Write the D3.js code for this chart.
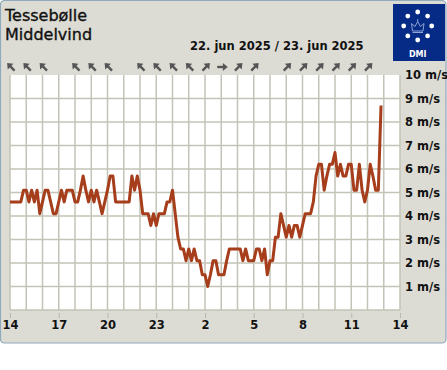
<!DOCTYPE html>
<html>
<head>
<meta charset="utf-8">
<script src="https://cdn.jsdelivr.net/npm/d3@7"></script>
<style>
  body { margin: 0; background: #fff; }
  text { font-family: "DejaVu Sans", sans-serif; }
</style>
</head>
<body>
<div id="chart"></div>
<script>
// wind speed in m/s, one value per 10 minutes from 22 jun 14:00
const speeds = [
  4.6, 4.6, 4.6, 4.6, 4.6, 5.1, 5.1, 4.6, 5.1, 4.6, 5.1, 4.1,
  4.6, 5.1, 5.1, 4.6, 4.1, 4.1, 4.6, 5.1, 4.6, 5.1, 5.1, 5.1,
  4.6, 4.6, 5.1, 5.7, 5.1, 4.6, 5.1, 4.6, 5.1, 4.6, 4.1, 4.6,
  5.1, 5.7, 5.7, 4.6, 4.6, 4.6, 4.6, 4.6, 4.6, 5.7, 5.1, 5.7,
  5.1, 4.1, 4.1, 4.1, 3.6, 4.1, 3.6, 4.1, 4.1, 4.1, 4.6, 4.6,
  5.1, 4.1, 3.1, 2.6, 2.6, 2.1, 2.6, 2.1, 2.6, 2.1, 2.1, 1.5,
  1.5, 1.0, 1.5, 2.1, 2.1, 1.5, 1.5, 1.5, 2.1, 2.6, 2.6, 2.6,
  2.6, 2.6, 2.1, 2.6, 2.1, 2.1, 2.1, 2.6, 2.6, 2.1, 2.6, 1.5,
  2.1, 2.1, 3.1, 3.1, 4.1, 3.6, 3.1, 3.6, 3.1, 3.6, 3.6, 3.1,
  3.6, 4.1, 4.1, 4.1, 4.6, 5.7, 6.2, 6.2, 5.1, 5.7, 6.2, 6.2,
  6.7, 5.7, 6.2, 5.7, 5.7, 6.2, 6.2, 5.1, 5.1, 6.2, 5.1, 4.6,
  5.1, 6.2, 5.7, 5.1, 5.1, 8.7
];
const stepMinutes = 10;

// direction arrows: hour offset from start and rotation (0 = up)
const arrowHours = [0, 1, 2, 4, 5, 6, 8, 9, 10, 11, 12, 13, 14, 15, 17, 18, 19, 20, 21, 22];
const arrowRot = [-45, -45, -45, -45, -45, -45, -45, -45, -45, -45, 45, 90, 45, 45, 45, 45, 45, 45, 45, 45];

const yTicks = [1, 2, 3, 4, 5, 6, 7, 8, 9, 10];
const titleLines = ["Tessebølle", "Middelvind"];
const dateLabel = "22. jun 2025 / 23. jun 2025";

const start = new Date(2025, 5, 22, 14, 0);
const end = new Date(2025, 5, 23, 14, 0);

const W = 447, H = 370;
const svg = d3.select('#chart').append('svg')
  .attr('width', W)
  .attr('height', H);

// panel
svg.append('rect')
  .attr('x', 0.5).attr('y', 0.5)
  .attr('width', 445.5).attr('height', 342.5)
  .attr('rx', 4)
  .attr('fill', '#dcdcd4')
  .attr('stroke', '#8fa9bd')
  .attr('stroke-width', 1.2);

const pLeft = 10, pRight = 400, pTop = 75, pBottom = 310;

const x = d3.scaleTime().domain([start, end]).range([pLeft, pRight]);
const y = d3.scaleLinear().domain([0, 10]).range([pBottom, pTop]);

svg.append('rect')
  .attr('x', pLeft).attr('y', pTop)
  .attr('width', pRight - pLeft).attr('height', pBottom - pTop)
  .attr('fill', '#fff');

// grid
const gridColor = '#c3c3b7';
svg.append('g')
  .selectAll('line')
  .data(d3.timeHour.range(start, d3.timeHour.offset(end, 1)))
  .enter().append('line')
  .attr('x1', d => x(d)).attr('x2', d => x(d))
  .attr('y1', pTop).attr('y2', pBottom)
  .attr('stroke', gridColor)
  .attr('stroke-width', 1.5);

svg.append('g')
  .selectAll('line')
  .data(d3.range(0, 10))
  .enter().append('line')
  .attr('x1', pLeft).attr('x2', pRight)
  .attr('y1', d => y(d)).attr('y2', d => y(d))
  .attr('stroke', gridColor)
  .attr('stroke-width', 1.5);

// x axis, a label every third hour from the start
const xAxis = d3.axisBottom(x)
  .tickValues(d3.timeHour.range(start, d3.timeHour.offset(end, 1), 3))
  .tickFormat(d3.timeFormat('%-H'))
  .tickSize(5)
  .tickPadding(3);
const gx = svg.append('g')
  .attr('transform', 'translate(0,' + (pBottom + 3) + ')')
  .call(xAxis);
gx.select('.domain').remove();
gx.selectAll('line').attr('stroke', '#b8b8ae');
gx.selectAll('text')
  .attr('font-family', '"DejaVu Sans", sans-serif')
  .attr('font-size', 11.5)
  .attr('font-weight', 'bold')
  .attr('fill', '#111');

// y axis (right side)
const yAxis = d3.axisRight(y)
  .tickValues(yTicks)
  .tickFormat(d => d + ' m/s')
  .tickSize(0)
  .tickPadding(5);
const gy = svg.append('g')
  .attr('transform', 'translate(' + pRight + ',0)')
  .call(yAxis);
gy.select('.domain').remove();
gy.selectAll('text')
  .attr('font-family', '"DejaVu Sans", sans-serif')
  .attr('font-size', 11.5)
  .attr('font-weight', 'bold')
  .attr('fill', '#111');

// line
const line = d3.line()
  .x((d, i) => x(d3.timeMinute.offset(start, i * stepMinutes)))
  .y(d => y(d));
svg.append('path')
  .datum(speeds)
  .attr('d', line)
  .attr('fill', 'none')
  .attr('stroke', '#a63d1b')
  .attr('stroke-width', 3)
  .attr('stroke-linejoin', 'round');

// arrows
const arrows = svg.append('g');
arrowHours.forEach((h, i) => {
  const ax = x(d3.timeHour.offset(start, h)) + 1;
  const g = arrows.append('g')
    .attr('transform', 'translate(' + ax + ',67) rotate(' + arrowRot[i] + ')');
  g.append('line')
    .attr('x1', 0).attr('y1', 5).attr('x2', 0).attr('y2', -2)
    .attr('stroke', '#555').attr('stroke-width', 2.4);
  g.append('path')
    .attr('d', 'M0,-5.5 L-4,-0.6 L4,-0.6 Z')
    .attr('fill', '#555');
});

// titles
svg.selectAll('.title')
  .data(titleLines)
  .enter().append('text')
  .attr('x', 5)
  .attr('y', (d, i) => 21 + i * 19)
  .attr('font-size', 16)
  .attr('fill', '#111')
  .attr('stroke', '#111')
  .attr('stroke-width', 0.35)
  .text(d => d);

svg.append('text')
  .attr('x', 190).attr('y', 50)
  .attr('font-size', 11.5)
  .attr('font-weight', 'bold')
  .attr('fill', '#111')
  .text(dateLabel);

// DMI logo
const logo = svg.append('g').attr('transform', 'translate(393,4)');
logo.append('rect')
  .attr('width', 52).attr('height', 57)
  .attr('fill', '#062b86');
d3.range(8).forEach(k => {
  const a = k * Math.PI / 4;
  logo.append('circle')
    .attr('cx', 24.7 + 14 * Math.sin(a))
    .attr('cy', 22 - 14 * Math.cos(a))
    .attr('r', 2.4)
    .attr('fill', '#fff');
});
logo.append('path')
  .attr('d', 'M19.5,27 L18.5,19.5 L22,22.5 L24.7,17.5 L27.4,22.5 L31,19.5 L30,27 Z M19.5,28.5 L30,28.5 M24.7,15 L24.7,17.5')
  .attr('fill', 'none')
  .attr('stroke', '#8ea3d6')
  .attr('stroke-width', 1);
logo.append('text')
  .attr('x', 24.7).attr('y', 53)
  .attr('text-anchor', 'middle')
  .attr('font-size', 8)
  .attr('font-weight', 'bold')
  .attr('fill', '#fff')
  .text('DMI');
</script>
</body>
</html>
